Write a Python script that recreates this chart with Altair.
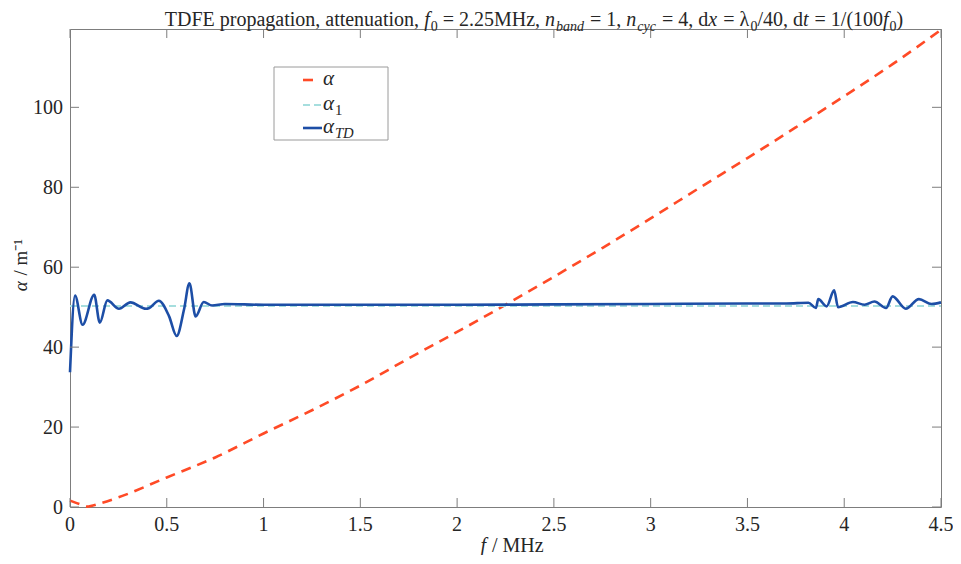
import altair as alt
import pandas as pd

# ---------------- data ----------------
f_alpha = [0.0, 0.05, 0.087, 0.15, 0.25, 0.5, 0.75, 1.0, 1.25, 1.5, 1.75, 2.0,
           2.25, 2.5, 2.75, 3.0, 3.25, 3.5, 3.75, 4.0, 4.25, 4.5]
alpha = [1.6, 0.7, 0.1, 0.8, 2.4, 7.4, 12.4, 18.4, 24.2, 30.4, 37.2, 43.8,
         50.6, 57.6, 64.8, 72.2, 79.8, 87.3, 95.0, 102.8, 110.8, 119.4]

f_alpha1 = [0.0, 4.5]
alpha1 = [50.3, 50.3]

f_td = [0.0, 0.026, 0.065, 0.125, 0.154, 0.193, 0.253, 0.312, 0.393, 0.41, 0.459,
        0.512, 0.551, 0.589, 0.617, 0.649, 0.691, 0.734, 0.80, 1.0, 1.5, 2.0,
        2.5, 3.0, 3.5, 3.7, 3.815, 3.854, 3.866, 3.909, 3.948, 3.968, 4.045,
        4.105, 4.156, 4.216, 4.25, 4.318, 4.386, 4.451, 4.5]
alpha_td = [33.7, 52.9, 45.6, 53.1, 46.1, 51.7, 49.6, 51.2, 49.6, 49.8, 51.6,
            47.7, 42.8, 49.4, 56.0, 47.7, 51.3, 50.4, 50.8, 50.6, 50.6, 50.6,
            50.7, 50.8, 50.9, 50.9, 51.1, 49.8, 52.0, 50.2, 54.2, 50.0, 51.3,
            50.6, 51.4, 49.8, 52.7, 49.6, 52.0, 50.8, 51.2]

x_ticks = [0, 0.5, 1, 1.5, 2, 2.5, 3, 3.5, 4, 4.5]
x_tick_labels = ["0", "0.5", "1", "1.5", "2", "2.5", "3", "3.5", "4", "4.5"]
y_ticks = [0, 20, 40, 60, 80, 100]
y_tick_labels = ["0", "20", "40", "60", "80", "100"]

# ---------------- layout ----------------
W, H = 871, 478
PAD_L, PAD_T, PAD_R, PAD_B = 62, 21, 12, 48
FONT = "Liberation Serif"
RED, CYAN, BLUE = "#ff4a26", "#a6dede", "#1d4ea6"
AX = "#7d7d7d"
TXT = "#262626"
TICK = 9
LS = 20  # tick label size

REG = {' ': 250, ',': 250, '.': 250, '=': 564, '/': 278, '(': 333, ')': 333,
       'T': 611, 'D': 722, 'F': 556, 'E': 611, 'M': 889, 'H': 722,
       'a': 444, 'b': 500, 'c': 444, 'd': 500, 'e': 444, 'f': 333, 'g': 500,
       'i': 278, 'm': 778, 'n': 500, 'o': 500, 'p': 500, 'r': 333, 't': 278,
       'u': 500, 'z': 444, 'λ': 549, '⁻': 333, '¹': 300}
ITA = {'f': 278, 'n': 500, 'x': 444, 't': 278, 'b': 500, 'a': 500, 'd': 500,
       'c': 444, 'y': 444, 'T': 556, 'D': 722, 'α': 520}


def tw(s, italic, size):
    tab = ITA if italic else REG
    return sum(tab.get(ch, REG.get(ch, 500)) for ch in s) * size / 1000.0


one = pd.DataFrame({"k": [0]})


def text_run(segs, x0, y0, size, color=TXT):
    """segs: list of (text, italic, sub). Left aligned from x0 on baseline y0."""
    out = []
    x = x0
    for txt, it, sub in segs:
        s = size * 0.7 if sub else size
        lead = len(txt) - len(txt.lstrip(' '))
        body = txt.strip(' ')
        xs_ = x + tw(' ' * lead, False, s)
        if body:
            out.append(
                alt.Chart(one).mark_text(
                    text=body, font=FONT, fontSize=s,
                    fontStyle="italic" if it else "normal",
                    align="left", baseline="alphabetic", color=color
                ).encode(x=alt.value(xs_), y=alt.value(y0 + (0.25 * size if sub else 0)))
            )
        x += tw(txt, it, s) + (1.0 if it else 0.0)
    return out, x - x0


# ---------------- data layers ----------------
df_a = pd.DataFrame({"f": f_alpha, "a": alpha})
df_a1 = pd.DataFrame({"f": f_alpha1, "a": alpha1})
df_td = pd.DataFrame({"f": f_td, "a": alpha_td})

xs = alt.Scale(domain=[0, 4.5], nice=False, zero=False)
ys = alt.Scale(domain=[0, 119.6], nice=False, zero=False)

red = alt.Chart(df_a).mark_line(color=RED, strokeWidth=2.6, strokeDash=[10, 7],
                                interpolate="monotone").encode(
    x=alt.X("f:Q", scale=xs, axis=None), y=alt.Y("a:Q", scale=ys, axis=None))
cyan = alt.Chart(df_a1).mark_line(color=CYAN, strokeWidth=2, strokeDash=[7, 4]).encode(
    x=alt.X("f:Q", scale=xs, axis=None), y=alt.Y("a:Q", scale=ys, axis=None))
blue = alt.Chart(df_td).mark_line(color=BLUE, strokeWidth=2.6,
                                  interpolate="monotone").encode(
    x=alt.X("f:Q", scale=xs, axis=None), y=alt.Y("a:Q", scale=ys, axis=None))

# ---------------- box ticks (inward) and tick labels ----------------
dfx = pd.DataFrame({"t": x_ticks, "lab": x_tick_labels})
dfy = pd.DataFrame({"t": y_ticks, "lab": y_tick_labels})
tick_layers = [
    alt.Chart(dfx).mark_rule(color=AX, strokeWidth=1).encode(
        x=alt.X("t:Q", scale=xs, axis=None), y=alt.value(H), y2=alt.value(H - TICK)),
    alt.Chart(dfx).mark_rule(color=AX, strokeWidth=1).encode(
        x=alt.X("t:Q", scale=xs, axis=None), y=alt.value(0), y2=alt.value(TICK)),
    alt.Chart(dfy).mark_rule(color=AX, strokeWidth=1).encode(
        y=alt.Y("t:Q", scale=ys, axis=None), x=alt.value(0), x2=alt.value(TICK)),
    alt.Chart(dfy).mark_rule(color=AX, strokeWidth=1).encode(
        y=alt.Y("t:Q", scale=ys, axis=None), x=alt.value(W), x2=alt.value(W - TICK)),
    alt.Chart(dfx).mark_text(font=FONT, fontSize=LS, color=TXT, align="center",
                             baseline="alphabetic").encode(
        x=alt.X("t:Q", scale=xs, axis=None), y=alt.value(H + 24), text="lab:N"),
    alt.Chart(dfy).mark_text(font=FONT, fontSize=LS, color=TXT, align="right",
                             baseline="alphabetic", dx=-7, dy=6.8).encode(
        y=alt.Y("t:Q", scale=ys, axis=None), x=alt.value(0), text="lab:N"),
]

# ---------------- title ----------------
TS = 20
title_segs = [
    ("TDFE propagation, attenuation, ", False, False),
    ("f", True, False), ("0", False, True),
    (" = 2.25MHz, ", False, False),
    ("n", True, False), ("band", True, True),
    (" = 1, ", False, False),
    ("n", True, False), ("cyc", True, True),
    (" = 4, d", False, False),
    ("x", True, False),
    (" = λ", False, False), ("0", False, True),
    ("/40, d", False, False),
    ("t", True, False),
    (" = 1/(100", False, False),
    ("f", True, False), ("0", False, True),
    (")", False, False),
]
_, tot = text_run(title_segs, 0, 0, TS)
title_layers, _ = text_run(title_segs, 464 - tot / 2, -3, TS)

# ---------------- x title ----------------
xt_segs = [("f", True, False), (" / MHz", False, False)]
_, xtot = text_run(xt_segs, 0, 0, 20)
xt_layers, _ = text_run(xt_segs, 442 - xtot / 2, H + 45, 20)

# ---------------- y title (rotated) ----------------
yt_a = tw("α", True, 19) + 1
yt_rest = tw(" / m⁻¹", False, 19)
y_c = H / 2 - 3
y_start = y_c + (yt_a + yt_rest) / 2
yt_layers = [
    alt.Chart(one).mark_text(text="α", font=FONT, fontSize=19, fontStyle="italic",
                             angle=270, align="left", baseline="alphabetic",
                             color=TXT).encode(x=alt.value(-43), y=alt.value(y_start)),
    alt.Chart(one).mark_text(text="/ m⁻¹", font=FONT, fontSize=19,
                             angle=270, align="left", baseline="alphabetic",
                             color=TXT).encode(
        x=alt.value(-43), y=alt.value(y_start - yt_a - tw(" ", False, 19))),
]

# ---------------- legend ----------------
LX0, LX1, LY0, LY1 = 204, 318, 38, 111
legend_layers = [
    alt.Chart(one).mark_rect(fill="white", stroke="#9a9a9a", strokeWidth=1).encode(
        x=alt.value(LX0), x2=alt.value(LX1), y=alt.value(LY0), y2=alt.value(LY1)),
    alt.Chart(one).mark_rule(color=RED, strokeWidth=2.6, strokeDash=[10, 7]).encode(
        x=alt.value(233), x2=alt.value(250), y=alt.value(51)),
    alt.Chart(one).mark_rule(color=CYAN, strokeWidth=2, strokeDash=[7, 4]).encode(
        x=alt.value(233), x2=alt.value(251), y=alt.value(76)),
    alt.Chart(one).mark_rule(color=BLUE, strokeWidth=2.6).encode(
        x=alt.value(233), x2=alt.value(252), y=alt.value(99)),
]
for segs, yy in [([("α", True, False)], 56),
                 ([("α", True, False), ("1", False, True)], 81),
                 ([("α", True, False), ("TD", True, True)], 104)]:
    lay, _ = text_run(segs, 253, yy, 21)
    legend_layers += lay

chart = alt.layer(
    red, cyan, blue, *tick_layers, *legend_layers, *title_layers, *xt_layers,
    *yt_layers
).properties(
    width=W, height=H,
    padding={"left": PAD_L, "top": PAD_T, "right": PAD_R, "bottom": PAD_B},
    autosize=alt.AutoSizeParams(type="none"),
).configure_view(stroke=AX, strokeWidth=1)

chart.save("out.html", embed_options={"renderer": "svg", "actions": False})
